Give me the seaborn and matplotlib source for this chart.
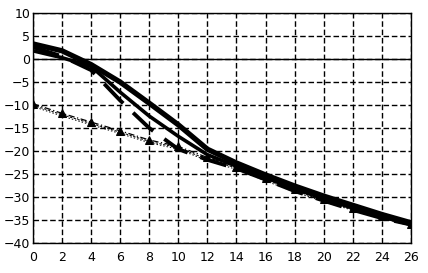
import matplotlib
matplotlib.use("Agg")
import matplotlib.pyplot as plt
import seaborn as sns
import pandas as pd

x = [0, 2, 4, 6, 8, 10, 12, 14, 16, 18, 20, 22, 24, 26]
upper_solid = [3.3, 1.8, -1.2, -5.0, -9.6, -14.3, -19.6, -22.6, -25.2, -27.6, -29.8, -31.8, -33.8, -35.6]
middle_solid = [1.8, 0.3, -1.6, -7.2, -12.4, -16.8, -20.8, -23.3, -25.8, -28.2, -30.4, -32.4, -34.3, -36.0]
dashed_thick = [2.6, 0.6, -2.4, -9.0, -15.0, -19.6, -21.9, -23.8, -26.2, -28.7, -30.8, -32.8, -34.6, -36.0]
triangle_line = [-9.7, -11.8, -13.7, -15.6, -17.6, -19.0, -21.4, -23.4, -25.9, -28.3, -30.5, -32.5, -34.2, -35.8]
thin_a = [-10.0, -12.1, -14.0, -15.9, -17.9, -19.3, -21.8, -23.7, -26.2, -28.6, -30.8, -32.7, -34.5, -36.0]
thin_b = [-10.3, -12.4, -14.3, -16.2, -18.2, -19.6, -22.1, -24.0, -26.5, -28.9, -31.0, -32.9, -34.7, -36.1]

xticks = list(range(0, 27, 2))
yticks = list(range(-40, 11, 5))

sns.set_style("white")
plt.rcParams['font.family'] = ['DejaVu Sans']

fig = plt.figure(figsize=(4.28, 2.73), dpi=100)
ax = fig.add_axes([0.077, 0.110, 0.883, 0.842])

def df(vals):
    return pd.DataFrame({"x": x, "y": vals})

sns.lineplot(data=df(thin_a), x="x", y="y", ax=ax, color="black", lw=0.7,
             linestyle=(0, (2.5, 1.5)))
sns.lineplot(data=df(thin_b), x="x", y="y", ax=ax, color="black", lw=0.7,
             linestyle=(0, (1.5, 2)))
sns.lineplot(data=df(triangle_line), x="x", y="y", ax=ax, color="black", lw=0.9,
             linestyle=(0, (5, 2, 1, 2)), marker="^", markersize=6, markeredgecolor="black")
sns.lineplot(data=df(dashed_thick), x="x", y="y", ax=ax, color="black", lw=2.8,
             linestyle=(0, (7, 3.5)))
sns.lineplot(data=df(middle_solid), x="x", y="y", ax=ax, color="black", lw=2.6)
sns.lineplot(data=df(upper_solid), x="x", y="y", ax=ax, color="black", lw=3.8)

ax.set_xlim(0, 26)
ax.set_ylim(-40, 10)
ax.set_xticks(xticks)
ax.set_yticks(yticks)
ax.set_xlabel("")
ax.set_ylabel("")
ax.grid(True, color="black", linestyle=(0, (4, 2)), linewidth=1.0)
ax.axhline(0, color="black", lw=1.0)
for s in ax.spines.values():
    s.set_visible(True)
    s.set_color("black")
    s.set_linewidth(1.0)
ax.tick_params(axis="both", length=0, labelsize=9, colors="black")
ax.tick_params(axis="y", pad=2)
ax.tick_params(axis="x", pad=6)

fig.savefig("out.png", dpi=100)
